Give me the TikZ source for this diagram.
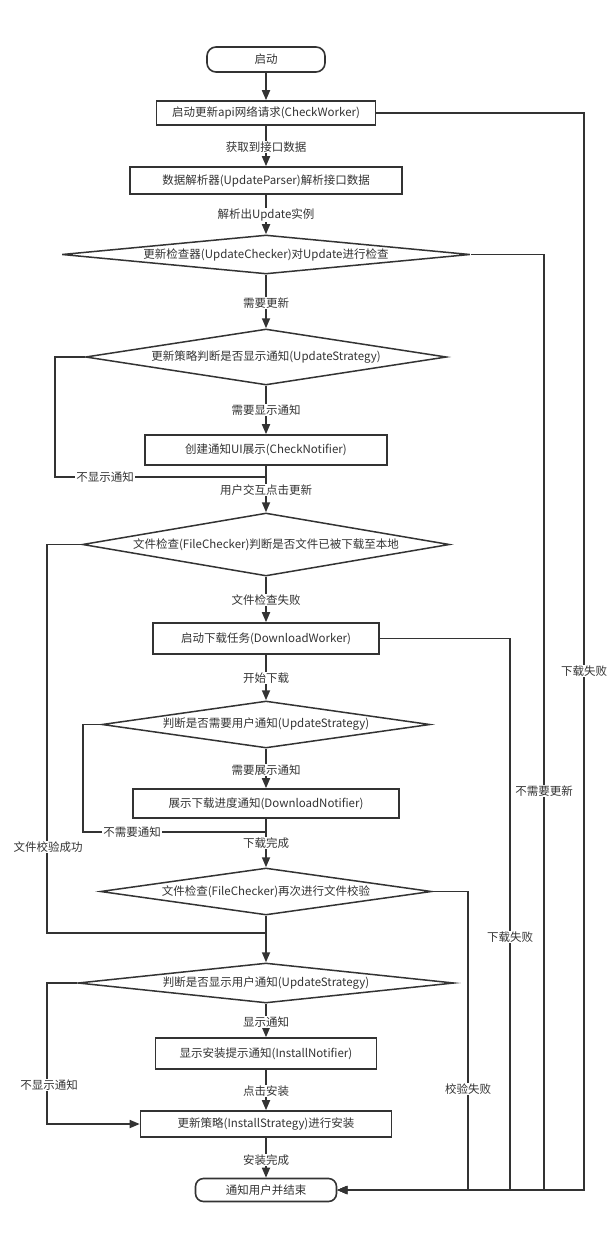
\documentclass[tikz,border=0pt]{standalone}
\usepackage{fontspec}
\setmainfont{Noto Sans CJK SC}
\usetikzlibrary{shapes.geometric,arrows.meta}
\definecolor{ink}{HTML}{333333}
\begin{document}
\begin{tikzpicture}[x=1pt,y=-1pt,
 every node/.style={font=\fontsize{11.5}{13}\selectfont, text=ink},
 box/.style={draw=ink, line width=1.6pt, fill=white, inner sep=0pt},
 term/.style={box, rounded corners=9pt},
 dia/.style={draw=ink, line width=1.5pt, diamond, inner sep=0pt},
 lab/.style={fill=white, inner sep=1pt},
 line/.style={draw=ink, line width=1.7pt},
 arr/.style={line, -{Triangle[length=10pt,width=8pt]}}]
\useasboundingbox (0,0) rectangle (615,1233);
% nodes
\node[term, minimum width=118pt, minimum height=25pt] (start) at (266,59.5) {启动};
\node[box, minimum width=219pt, minimum height=24pt] (b1) at (266,113) {启动更新api网络请求(CheckWorker)};
\node[box, minimum width=272pt, minimum height=27pt] (b2) at (266,180.5) {数据解析器(UpdateParser)解析接口数据};
\node[dia, minimum width=408pt, minimum height=39pt] (d1) at (266,254.5) {};
\node at (d1) {更新检查器(UpdateChecker)对Update进行检查};
\node[dia, minimum width=361pt, minimum height=56pt] (d2) at (266,357) {};
\node at (d2) {更新策略判断是否显示通知(UpdateStrategy)};
\node[box, minimum width=242pt, minimum height=30pt] (b3) at (266,450) {创建通知UI展示(CheckNotifier)};
\node[dia, minimum width=367pt, minimum height=63pt] (d3) at (266,544.5) {};
\node at (d3) {文件检查(FileChecker)判断是否文件已被下载至本地};
\node[box, minimum width=226pt, minimum height=31pt] (b4) at (266,638.5) {启动下载任务(DownloadWorker)};
\node[dia, minimum width=328pt, minimum height=47pt] (d4) at (266,724.5) {};
\node at (d4) {判断是否需要用户通知(UpdateStrategy)};
\node[box, minimum width=266pt, minimum height=29pt] (b5) at (266,803.5) {展示下载进度通知(DownloadNotifier)};
\node[dia, minimum width=331pt, minimum height=47pt] (d5) at (266,891.5) {};
\node at (d5) {文件检查(FileChecker)再次进行文件校验};
\node[dia, minimum width=376pt, minimum height=40pt] (d6) at (266,983) {};
\node at (d6) {判断是否显示用户通知(UpdateStrategy)};
\node[box, minimum width=221pt, minimum height=31pt] (b6) at (266,1053.5) {显示安装提示通知(InstallNotifier)};
\node[box, minimum width=251pt, minimum height=26pt] (b7) at (266,1124) {更新策略(InstallStrategy)进行安装};
\node[term, minimum width=141pt, minimum height=23pt, rounded corners=8pt] (fin) at (266,1190) {通知用户并结束};
% junction coordinates
\coordinate (j1) at (266,477);
\coordinate (j2) at (266,832);
\coordinate (j3) at (266,933);
\coordinate (r1) at (584,1190);
\coordinate (r2) at (544,1190);
\coordinate (r3) at (510,1190);
\coordinate (r4) at (468,1190);
% main flow
\draw[arr] (start) -- (b1);
\draw[arr] (b1) -- (b2);
\draw[arr] (b2) -- (d1.north);
\draw[arr] (d1.south) -- (d2.north);
\draw[arr] (d2.south) -- (b3);
\draw[arr] (b3) -- (d3.north);
\draw[arr] (d3.south) -- (b4);
\draw[arr] (b4) -- (d4.north);
\draw[arr] (d4.south) -- (b5);
\draw[arr] (b5) -- (d5.north);
\draw[arr] (d5.south) -- (d6.north);
\draw[arr] (d6.south) -- (b6);
\draw[arr] (b6) -- (b7);
\draw[arr] (b7) -- (fin);
% left loops
\draw[line] (d2.west) -- ++(-30,0) |- (j1);
\draw[line] (d4.west) -- ++(-18,0) |- (j2);
\draw[line] (d3.west) -- ++(-35,0) |- (j3);
\draw[arr] (d6.west) -- ++(-30,0) |- (b7.west);
% right lines
\draw[arr] (b1.east) -| (r1) -- (fin.east);
\draw[arr] (d1.east) -| (r2) -- (fin.east);
\draw[arr] (b4.east) -| (r3) -- (fin.east);
\draw[arr] (d5.east) -| (r4) -- (fin.east);
% labels
\node[lab] (l1) at (266,147) {获取到接口数据};
\node[lab] (l2) at (266,215) {解析出Update实例};
\node[lab] (l3) at (266,303) {需要更新};
\node[lab] (l4) at (266,410) {需要显示通知};
\node[lab] (l5) at (105,477) {不显示通知};
\node[lab] (l6) at (266,490) {用户交互点击更新};
\node[lab] (l7) at (266,600) {文件检查失败};
\node[lab] (l8) at (266,678) {开始下载};
\node[lab] (l9) at (266,770) {需要展示通知};
\node[lab] (l10) at (132,832) {不需要通知};
\node[lab] (l11) at (266,843) {下载完成};
\node[lab] (l12) at (48,847) {文件校验成功};
\node[lab] (l13) at (266,1022) {显示通知};
\node[lab] (l14) at (266,1091) {点击安装};
\node[lab] (l15) at (49,1085) {不显示通知};
\node[lab] (l16) at (266,1160) {安装完成};
\node[lab] (l17) at (468,1089) {校验失败};
\node[lab] (l18) at (510,937) {下载失败};
\node[lab] (l19) at (544,791) {不需要更新};
\node[lab] (l20) at (584,671) {下载失败};
\end{tikzpicture}
\end{document}
